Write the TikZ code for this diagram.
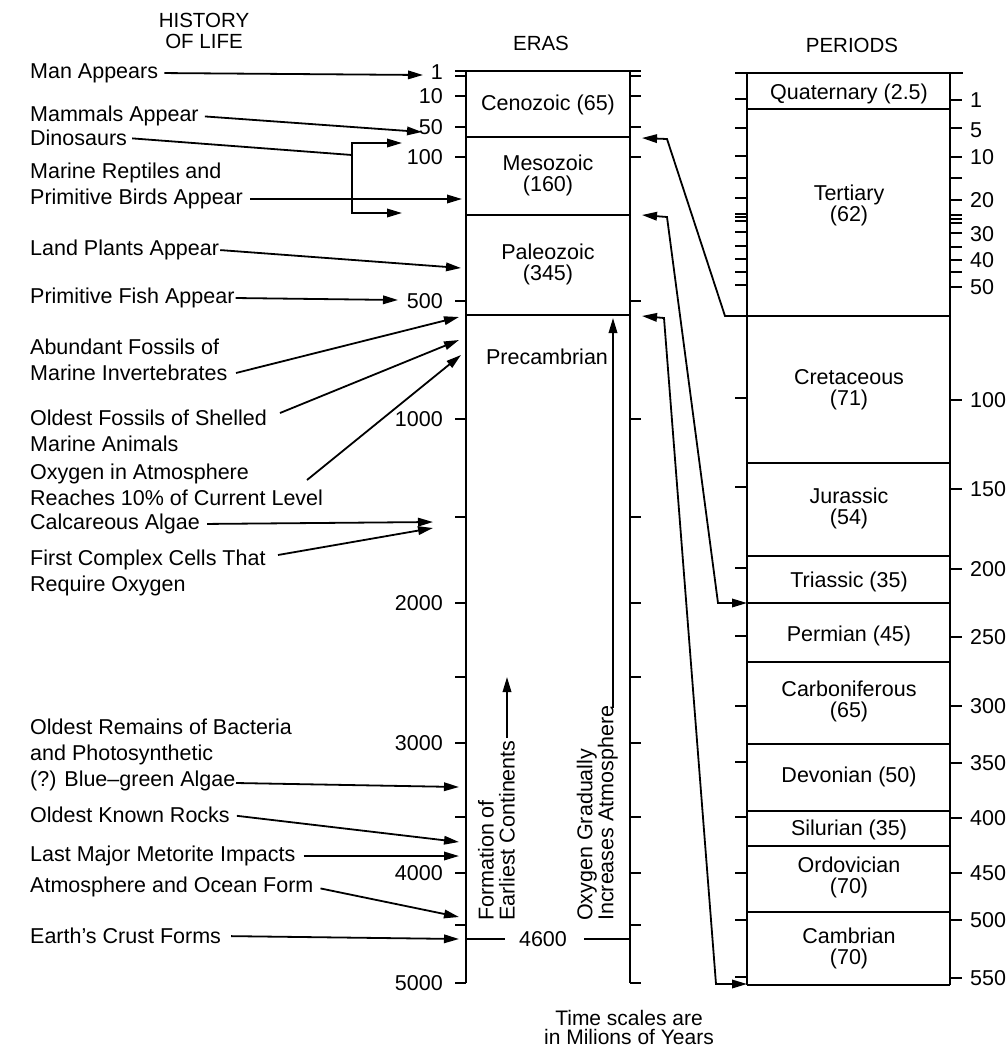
\documentclass[tikz,border=0pt]{standalone}
\usepackage{fontspec}
\setmainfont{Liberation Sans}
\usetikzlibrary{arrows.meta,calc}
\newcommand\lblfont{\fontsize{21.5}{26}\selectfont}
\newcommand\boxfont{\fontsize{21.5}{21}\selectfont}
\newcommand\headfont{\fontsize{20.5}{21}\selectfont}
\tikzset{
  bar/.style   = {line width=2.3pt},
  tck/.style   = {line width=1.8pt},
  wire/.style  = {line width=1.8pt},
  arr/.style   = {line width=1.8pt, -{Triangle[length=15pt,width=8.5pt]}},
  darr/.style  = {line width=1.8pt,
                  {Triangle[length=15pt,width=8.5pt]}-{Triangle[length=15pt,width=8.5pt]}},
  lbl/.style   = {anchor=west, inner sep=0pt, align=left, font=\lblfont},
  ctr/.style   = {inner sep=0pt, align=center, font=\boxfont},
  lnum/.style  = {anchor=east, inner sep=0pt, font=\lblfont},
  rnum/.style  = {anchor=west, inner sep=0pt, font=\lblfont},
  vtxt/.style  = {rotate=90, anchor=south west, inner sep=0pt, align=left, font=\boxfont},
}

\begin{document}
\begin{tikzpicture}[x=1pt,y=-1pt]
  \useasboundingbox (0,0) rectangle (1008,1050);

  % headings
  \node[ctr, font=\headfont] (hist) at (204,31) {HISTORY\\OF LIFE};
  \node[ctr, font=\headfont] (eras) at (541,43) {ERAS};
  \node[ctr, font=\headfont] (pers) at (852,45) {PERIODS};

  % eras column
  \draw[bar] (455,71) -- (641,71);
  \draw[bar] (466,71) -- (466,983);
  \draw[bar] (630,71) -- (630,983);
  \foreach \y in {76,96,127,157,301,419,517,603,677,743,817,873,925,983}{
    \draw[tck] (455,\y) -- (466,\y);
    \draw[tck] (630,\y) -- (641,\y);
  }
  \draw[bar] (466,137) -- (630,137);
  \draw[bar] (466,215) -- (630,215);
  \draw[bar] (466,315) -- (630,315);
  \foreach \y/\t in {72/1,96/10,127/50,157/100,301/500,419/1000,603/2000,
                     743/3000,873/4000,983/5000}
    \node[lnum] (ln\t) at (443,\y) {\t};

  \node[ctr] (cz) at (548,105) {Cenozoic (65)};
  \node[ctr] (mz) at (548,175) {Mesozoic\\(160)};
  \node[ctr] (pz) at (548,264) {Paleozoic\\(345)};
  \node[ctr] (pc) at (547,357) {Precambrian};

  \node[vtxt] (form) at (515,921) {Formation of\\Earliest Continents};
  \node[vtxt] (oxy) at (618,921) {Oxygen Gradually\\Increases Atmosphere};
  \coordinate (form-a) at (507,738);
  \coordinate (form-b) at (507,677);
  \coordinate (oxy-a) at (613,708);
  \coordinate (oxy-b) at (613,318);
  \draw[arr] (form-a) -- (form-b);
  \draw[arr] (oxy-a) -- (oxy-b);

  \node[ctr, font=\lblfont] (n46) at (543,939) {4600};
  \draw[wire] (466,939) -- ([xshift=-14pt]n46.west);
  \draw[wire] ([xshift=17pt]n46.east) -- (630,939);

  % periods column
  \draw[bar] (735,73) -- (963,73);
  \draw[bar] (747,73) -- (747,985);
  \draw[bar] (950,73) -- (950,985);
  \draw[bar] (747,985) -- (950,985);
  \foreach \y in {99,128,156,178,198,214,217,221,232,246,259,272,285,
                  398,487,568,636,706,762,817,873,920,977}
    \draw[tck] (735,\y) -- (747,\y);
  \foreach \y in {100,128,157,178,200,215,219,223,233,247,260,272,287,
                  400,489,569,637,706,763,818,873,920,978}
    \draw[tck] (950,\y) -- (962,\y);
  \foreach \y in {109,316,463,556,603,662,744,811,846,912}
    \draw[bar] (747,\y) -- (950,\y);
  \foreach \y/\t in {100/1,130/5,157/10,200/20,234/30,260/40,287/50,400/100,
                     489/150,569/200,637/250,706/300,763/350,818/400,873/450,
                     920/500,978/550}
    \node[rnum] (rn\t) at (970,\y) {\t};

  \node[ctr] (qt) at (849,94) {Quaternary (2.5)};
  \node[ctr] (te) at (849,205) {Tertiary\\(62)};
  \node[ctr] (cr) at (849,390) {Cretaceous\\(71)};
  \node[ctr] (ju) at (849,508) {Jurassic\\(54)};
  \node[ctr] (tr) at (849,582) {Triassic (35)};
  \node[ctr] (pm) at (849,636) {Permian (45)};
  \node[ctr] (cb) at (849,701) {Carboniferous\\(65)};
  \node[ctr] (dv) at (849,777) {Devonian (50)};
  \node[ctr] (sl) at (849,830) {Silurian (35)};
  \node[ctr] (od) at (849,877) {Ordovician\\(70)};
  \node[ctr] (cm) at (849,948) {Cambrian\\(70)};

  % periods to eras
  \coordinate (ce) at (642,138);
  \coordinate (me) at (642,215);
  \coordinate (pe) at (642,316);
  \coordinate (k1) at (667,139);
  \coordinate (k2) at (667,217);
  \coordinate (k3) at (664,318);
  \coordinate (k1b) at (725,316);
  \coordinate (k2b) at (718,603);
  \coordinate (k3b) at (716,984);
  \coordinate (p-tc) at (747,316);
  \coordinate (p-tp) at (747,603);
  \coordinate (p-cb) at (747,984);
  \draw[arr] (p-tc) -- (k1b) -- (k1) -- (ce);
  \draw[darr] (me) -- (k2) -- (k2b) -- (p-tp);
  \draw[darr] (pe) -- (k3) -- (k3b) -- (p-cb);

  % history of life
  \node[lbl] (man) at (30,73) {Man Appears};
  \node[lbl] (mam) at (30,116) {Mammals Appear};
  \node[lbl] (dino) at (30,138) {Dinosaurs};
  \node[lbl] (rept) at (30,186) {Marine Reptiles and\\Primitive Birds Appear};
  \node[lbl] (land) at (30,250) {Land Plants Appear};
  \node[lbl] (fish) at (30,298) {Primitive Fish Appear};
  \node[lbl] (abund) at (30,360) {Abundant Fossils of\\Marine Invertebrates};
  \node[lbl] (shell) at (30,431) {Oldest Fossils of Shelled\\Marine Animals};
  \node[lbl] (oxat) at (30,485) {Oxygen in Atmosphere\\Reaches 10\% of Current Level};
  \node[lbl] (calc) at (30,524) {Calcareous Algae};
  \node[lbl] (cells) at (30,573) {First Complex Cells That\\Require Oxygen};
  \node[lbl] (bact) at (30,755) {Oldest Remains of Bacteria\\and Photosynthetic\\(?) Blue--green Algae};
  \node[lbl] (rocks) at (30,815) {Oldest Known Rocks};
  \node[lbl] (impact) at (30,856) {Last Major Metorite Impacts};
  \node[lbl] (ocean) at (30,887) {Atmosphere and Ocean Form};
  \node[lbl] (crust) at (30,936) {Earth's Crust Forms};

  \coordinate (man-h) at (423,75);
  \coordinate (mam-h) at (422,132);
  \coordinate (dino-k) at (352,155);
  \coordinate (dino-a) at (402,143);
  \coordinate (dino-b) at (402,213);
  \coordinate (rept-t) at (250,199);
  \coordinate (rept-h) at (462,199);
  \coordinate (land-h) at (461,268);
  \coordinate (fish-h) at (398,300);
  \coordinate (abund-t) at (236,373);
  \coordinate (abund-h) at (459,317);
  \coordinate (shell-t) at (280,413);
  \coordinate (shell-h) at (459,340);
  \coordinate (oxat-t) at (307,480);
  \coordinate (oxat-h) at (461,355);
  \coordinate (calc-h) at (433,522);
  \coordinate (cells-t) at (278,555);
  \coordinate (cells-h) at (433,528);
  \coordinate (bact-t) at (236,783);
  \coordinate (bact-h) at (459,787);
  \coordinate (rocks-h) at (459,842);
  \coordinate (impact-h) at (459,856);
  \coordinate (ocean-h) at (459,917);
  \coordinate (crust-h) at (459,939);

  \draw[arr, shorten <=6pt] (man.east) -- (man-h);
  \draw[arr, shorten <=6pt] (mam.east) -- (mam-h);
  \draw[wire, shorten <=5pt] (dino.east) -- (dino-k);
  \draw[arr] (dino-k) |- (dino-a);
  \draw[arr] (dino-k) |- (dino-b);
  \draw[arr] (rept-t) -- (rept-h);
  \draw[arr, shorten <=1pt] (land.east) -- (land-h);
  \draw[arr, shorten <=1pt] (fish.east) -- (fish-h);
  \draw[arr] (abund-t) -- (abund-h);
  \draw[arr] (shell-t) -- (shell-h);
  \draw[arr] (oxat-t) -- (oxat-h);
  \draw[arr, shorten <=7pt] (calc.east) -- (calc-h);
  \draw[arr] (cells-t) -- (cells-h);
  \draw[arr] (bact-t) -- (bact-h);
  \draw[arr, shorten <=7pt] (rocks.east) -- (rocks-h);
  \draw[arr, shorten <=8pt] (impact.east) -- (impact-h);
  \draw[arr, shorten <=7pt] (ocean.east) -- (ocean-h);
  \draw[arr, shorten <=10pt] (crust.east) -- (crust-h);

  \node[ctr, font=\fontsize{21}{19}\selectfont] (note) at (629,1027)
    {Time scales are\\in Milions of Years};
\end{tikzpicture}
\end{document}
